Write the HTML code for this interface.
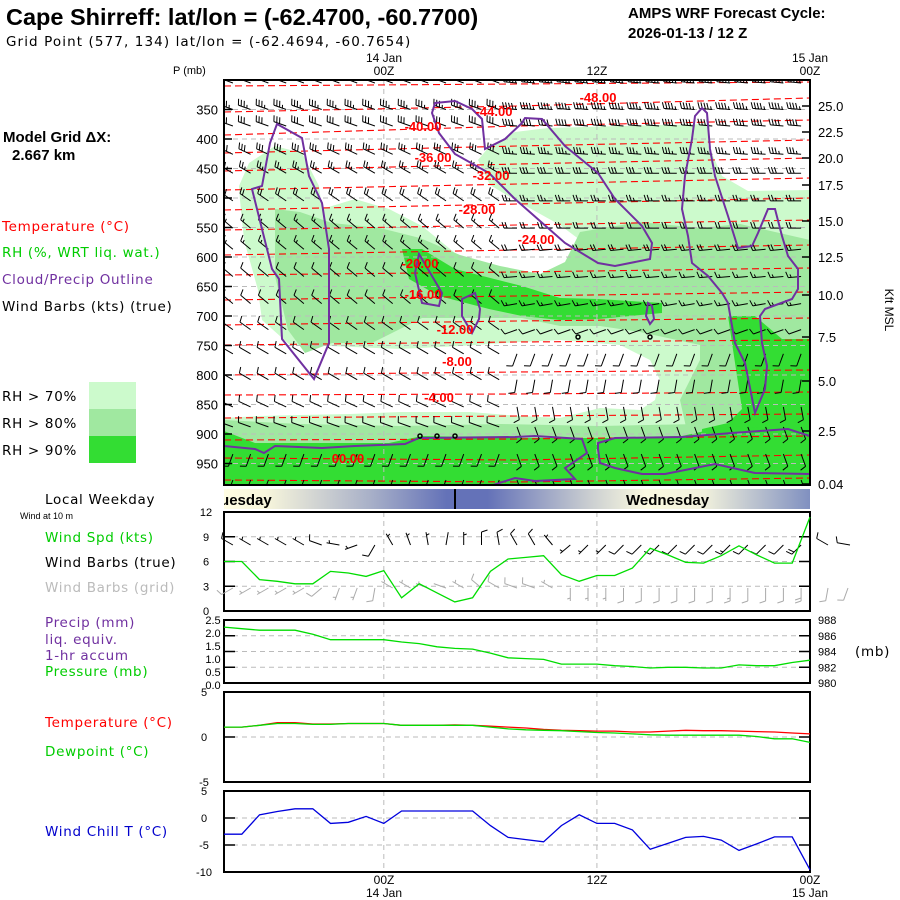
<!DOCTYPE html>
<html><head><meta charset="utf-8">
<style>
html,body{margin:0;padding:0;background:#fff;}
svg{display:block;font-family:"Liberation Sans",sans-serif;}
.h{font-family:"DejaVu Sans","Liberation Sans",sans-serif;font-size:13.5px;letter-spacing:0.7px;}
</style></head>
<body>
<svg id="svg" width="900" height="900" viewBox="0 0 900 900" xmlns="http://www.w3.org/2000/svg">
<defs>
<linearGradient id="dayg" x1="224" x2="810" y1="0" y2="0" gradientUnits="userSpaceOnUse">
<stop offset="0" stop-color="#fffde2"/>
<stop offset="0.07" stop-color="#f8f6dc"/>
<stop offset="0.25" stop-color="#a8b0c8"/>
<stop offset="0.38" stop-color="#6472b8"/>
<stop offset="0.45" stop-color="#6472b8"/>
<stop offset="0.62" stop-color="#c8ccd0"/>
<stop offset="0.72" stop-color="#fbfae0"/>
<stop offset="0.82" stop-color="#f0f0dc"/>
<stop offset="1" stop-color="#8090c0"/>
</linearGradient>
<clipPath id="mainclip"><rect x="224" y="80" width="586" height="405"/></clipPath>
</defs>

<!-- header text -->
<text x="6" y="25" font-size="23.5" font-weight="bold">Cape Shirreff:  lat/lon = (-62.4700, -60.7700)</text>
<text x="6" y="46" class="h" style="font-size:13.5px;letter-spacing:1.1px">Grid Point (577, 134) lat/lon = (-62.4694, -60.7654)</text>
<text x="628" y="18" font-size="15" font-weight="bold">AMPS WRF Forecast Cycle:</text>
<text x="628" y="38" font-size="15" font-weight="bold">2026-01-13 / 12  Z</text>
<text x="173" y="74" font-size="11">P (mb)</text>
<text x="384" y="62" font-size="12" text-anchor="middle">14 Jan</text>
<text x="384" y="75" font-size="12" text-anchor="middle">00Z</text>
<text x="597" y="75" font-size="12" text-anchor="middle">12Z</text>
<text x="810" y="62" font-size="12" text-anchor="middle">15 Jan</text>
<text x="810" y="75" font-size="12" text-anchor="middle">00Z</text>

<!-- left legend -->
<text x="3" y="142" font-size="15" font-weight="bold">Model Grid ΔX:</text>
<text x="12" y="160" font-size="15" font-weight="bold">2.667 km</text>
<text x="2" y="231" class="h" fill="#ff0000">Temperature (°C)</text>
<text x="2" y="257" class="h" fill="#00cc00">RH (%, WRT liq. wat.)</text>
<text x="2" y="284" class="h" fill="#7030a0">Cloud/Precip Outline</text>
<text x="2" y="311" class="h">Wind Barbs (kts) (true)</text>
<rect x="89" y="382" width="47" height="27" fill="#ccfacc"/>
<rect x="89" y="409" width="47" height="27" fill="#a0e8a0"/>
<rect x="89" y="436" width="47" height="27" fill="#33dd33"/>
<text x="2" y="401" class="h">RH &gt; 70%</text>
<text x="2" y="428" class="h">RH &gt; 80%</text>
<text x="2" y="455" class="h">RH &gt; 90%</text>

<!-- main panel -->
<g clip-path="url(#mainclip)">
<rect x="224" y="80" width="586" height="405" fill="#ccfacc"/>
<polygon fill="#ffffff" points="224,80 810,80 810,190 748,191 722,176 708,145 710,124 620,126 548,128 515,132 488,148 478,160 490,185 515,200 560,225 600,255 610,262 560,275 522,279 489,269 455,253 422,226 389,209 355,199 322,209 319,186 302,153 275,146 249,163 239,186 240,200 244,240 258,290 262,320 290,345 330,346 400,349 460,346 520,342 560,340 620,345 650,360 660,380 655,400 640,410 600,408 560,418 520,416 470,412 400,412 350,414 300,415 260,416 224,418"/>
<polygon fill="#a0e8a0" points="275,209 300,212 332,223 380,228 420,238 460,255 500,266 540,274 565,262 580,232 640,222 700,228 740,224 810,240 810,330 760,345 700,345 640,332 600,326 560,326 522,318 472,318 422,318 372,343 332,343 305,353 288,330 275,276"/>
<polygon fill="#a0e8a0" points="700,300 810,300 810,445 690,445 680,400 700,360"/>
<polygon fill="#a0e8a0" points="224,420 300,424 400,426 500,424 600,426 700,424 810,424 810,485 224,485"/>
<polygon fill="#33dd33" points="402,249 422,249 455,269 522,286 560,298 598,299 662,303 662,313 598,319 560,320 522,316 489,309 439,296 409,279"/>
<polygon fill="#33dd33" points="728,316 755,316 782,339 810,339 810,485 700,485 702,429 728,423 742,409 732,343"/>
<polygon fill="#33dd33" points="224,431 255,443 389,443 422,436 522,438 615,438 682,436 728,426 788,429 810,429 810,485 224,485"/>
<g id="gridlines"></g>
<g id="redcont"></g>
<g id="barbs"></g>
<g fill="none" stroke="#7030a0" stroke-width="2">
<polygon points="277,124 302,138 309,176 322,203 329,249 329,343 314,379 282,339 279,279 272,269 252,189 262,186 270,143"/>
<polygon points="435,103 455,101 472,109 482,119 485,149 505,139 522,123 525,118 542,119 565,146 598,173 615,199 642,226 652,243 650,259 615,266 598,263 565,243 515,199 489,173 455,154 439,133 432,113"/>
<polygon points="702,108 707,113 710,149 715,176 728,216 738,248 752,246 758,233 768,209 775,209 782,236 788,256 798,269 798,289 792,299 765,309 760,316 762,343 767,366 765,389 755,413 745,363 735,343 728,303 722,293 708,276 692,263 688,236 682,209 685,176 692,139 695,116"/>
<polygon points="419,254 432,276 442,293 439,306 422,303 415,273"/>
<polygon points="462,299 475,293 480,309 479,319 472,333 462,316"/>
<polygon points="648,303 652,306 654,319 650,324 646,316"/>
<polyline points="224,446 255,449 264,453 275,446 322,448 355,446 405,444 419,438 515,437 535,436 582,439 587,453 565,468 575,479 535,481 515,478 490,486"/>
<polygon points="598,443 615,438 682,437 732,433 788,429 810,436 810,474 755,473 715,464 665,474 642,474 615,468 600,463 598,449"/>
</g>
<g>
<circle cx="420" cy="436" r="2" fill="none" stroke="#000" stroke-width="1.5"/>
<circle cx="437" cy="436" r="2" fill="none" stroke="#000" stroke-width="1.5"/>
<circle cx="455" cy="436" r="2" fill="none" stroke="#000" stroke-width="1.5"/>
<circle cx="578" cy="337" r="2" fill="none" stroke="#000" stroke-width="1.5"/>
<circle cx="650" cy="337" r="2" fill="none" stroke="#000" stroke-width="1.5"/>
</g>
<g font-size="13" font-weight="bold" fill="#ff0000" text-anchor="middle">
<text x="598" y="102">-48.00</text>
<text x="494" y="116">-44.00</text>
<text x="423" y="131">-40.00</text>
<text x="433" y="162">-36.00</text>
<text x="491" y="180">-32.00</text>
<text x="477" y="214">-28.00</text>
<text x="536" y="244">-24.00</text>
<text x="420" y="268">-20.00</text>
<text x="423" y="299">-16.00</text>
<text x="455" y="334">-12.00</text>
<text x="457" y="366">-8.00</text>
<text x="439" y="402">-4.00</text>
<text x="348" y="463">00.00</text>
</g>
</g>
<rect x="224" y="80" width="586" height="405" fill="none" stroke="#000" stroke-width="2"/>
<g id="axes"></g>
<text x="885" y="310" font-size="12" transform="rotate(90 885 310)" text-anchor="middle">Kft MSL</text>

<!-- day bar -->
<rect x="224" y="489" width="586" height="20" fill="url(#dayg)"/>
<line x1="455" y1="489" x2="455" y2="509" stroke="#000" stroke-width="2"/>
<svg x="224" y="489" width="586" height="20"><text x="-12" y="16" font-size="15" font-weight="bold">Tuesday</text></svg>
<text x="626" y="505" font-size="15" font-weight="bold">Wednesday</text>
<text x="45" y="504" class="h">Local Weekday</text>
<text x="20" y="519" font-size="9">Wind at 10 m</text>
<text x="45" y="542" class="h" fill="#00cc00">Wind Spd (kts)</text>
<text x="45" y="567" class="h">Wind Barbs (true)</text>
<text x="45" y="592" class="h" fill="#bbbbbb">Wind Barbs (grid)</text>
<text x="45" y="627" class="h" fill="#7030a0">Precip (mm)</text>
<text x="45" y="644" class="h" fill="#7030a0">liq. equiv.</text>
<text x="45" y="660" class="h" fill="#7030a0">1-hr accum</text>
<text x="45" y="676" class="h" fill="#00cc00">Pressure (mb)</text>
<text x="45" y="727" class="h" fill="#ff0000">Temperature (°C)</text>
<text x="45" y="756" class="h" fill="#00cc00">Dewpoint (°C)</text>
<text x="45" y="836" class="h" fill="#0000cc">Wind Chill T (°C)</text>
<text x="855" y="656" class="h">(mb)</text>
<g id="lower"></g>
<text x="384" y="884" font-size="12" text-anchor="middle">00Z</text>
<text x="384" y="897" font-size="12" text-anchor="middle">14 Jan</text>
<text x="597" y="884" font-size="12" text-anchor="middle">12Z</text>
<text x="810" y="884" font-size="12" text-anchor="middle">00Z</text>
<text x="810" y="897" font-size="12" text-anchor="middle">15 Jan</text>
</svg>

<script>
// ---- data ----
var hours = [0,1,2,3,4,5,6,7,8,9,10,11,12,13,14,15,16,17,18,19,20,21,22,23,24,25,26,27,28,29,30,31,32,33];
var windSpd = [6.0,6.0,3.8,3.6,3.3,3.3,4.8,4.6,4.2,4.9,1.6,3.3,2.2,1.1,1.6,4.8,6.3,6.5,6.7,4.4,3.6,4.3,4.3,5.2,7.6,6.8,5.9,5.8,6.7,7.9,6.8,5.8,5.8,11.4];
var pressure = [987.1,986.9,986.7,986.7,986.7,986.2,985.5,985.5,985.5,985.5,985.2,985.0,984.6,984.4,984.3,983.8,983.2,983.1,983.0,982.4,982.4,982.4,982.2,982.1,981.9,982.0,982.0,981.9,981.9,982.3,982.2,982.2,982.6,982.9];
var temperature = [1.1,1.1,1.3,1.6,1.6,1.45,1.45,1.5,1.5,1.5,1.3,1.3,1.3,1.35,1.3,1.2,1.1,1.0,0.85,0.75,0.7,0.65,0.65,0.55,0.55,0.65,0.75,0.7,0.7,0.65,0.6,0.55,0.45,0.35];
var dewpoint = [1.1,1.1,1.3,1.5,1.5,1.4,1.4,1.5,1.5,1.5,1.3,1.3,1.3,1.3,1.3,1.1,0.9,0.8,0.75,0.7,0.6,0.5,0.45,0.35,0.25,0.2,0.2,0.2,0.2,0.2,0.05,-0.2,-0.2,-0.6];
var windChill = [-3.0,-3.0,0.6,1.2,1.7,1.7,-1.0,-0.8,0.3,-1.0,1.3,1.3,1.3,1.3,1.3,-1.4,-3.6,-4.0,-4.4,-1.4,0.6,-1.0,-1.0,-2.2,-5.8,-4.7,-3.6,-3.4,-4.1,-6.0,-4.8,-3.5,-3.5,-9.6];
var sfcDirTrue = [300,300,300,300,300,300,290,280,250,210,330,340,350,10,0,0,350,330,330,320,230,225,225,225,225,225,225,225,225,225,225,225,225,225];
var sfcDirGrid = [240,240,240,240,240,240,230,200,200,190,300,300,290,290,300,310,300,290,290,300,180,180,180,180,180,180,180,180,180,180,180,180,180,180];
var pLevels = [350,400,450,500,550,600,650,700,750,800,850,900,950];
var kftLabels = ["25.0","22.5","20.0","17.5","15.0","12.5","10.0","7.5","5.0","2.5","0.04"];
var kftY = [106,132,158,185,221,257,295,337,381,431,484];
var barbRowP = [305,350,378,426,458,505,551,587,633,679,723,764,808,854,888,934,978];
var barbSpdL = [35,35,30,30,25,20,15,15,10,10,10,10,10,10,10,10,10];
var barbSpdR = [45,45,40,35,30,25,20,20,15,15,10,10,10,10,10,10,10];
var barbDirL = [290,290,290,295,300,305,310,310,310,310,305,300,300,295,290,200,200];
var barbDirR = [275,275,275,275,270,270,270,265,265,260,250,200,190,170,160,160,160];
var tempContours = [[86,84,82],[112,106,98],[135,126,120],[153,146,140],[171,164,158],[190,184,178],[210,204,198],[230,225,220],[255,250,245],[275,272,268],[300,296,292],[325,321,318],[345,342,340],[375,372,370],[395,394,392],[418,416,414],[440,439,436],[458,460,455],[480,482,478]];

// ---- scales ----
var NS = "http://www.w3.org/2000/svg";
function X(h){ return 224 + h*586/33; }
function Yp(p){ return 80 + (p-300)*0.59; }
function Yw(v){ return 611 - v*99/12; }
function Ypr(mb){ return 683 - (mb-980)*63/8; }
function Yt(t){ return 737 - t*9; }
function Yc(t){ return 818 - t*5.4; }
function mk(tag, attrs, parent){
  var e = document.createElementNS(NS, tag);
  for (var k in attrs) e.setAttribute(k, attrs[k]);
  parent.appendChild(e);
  return e;
}
function barb(g, x, y, dir, spd, col, L){
  L = L || 14;
  var r = dir*Math.PI/180;
  var ux = Math.sin(r), uy = -Math.cos(r);
  var px = -uy, py = ux;
  var ex = x + ux*L, ey = y + uy*L;
  var d = "M"+x.toFixed(1)+" "+y.toFixed(1)+"L"+ex.toFixed(1)+" "+ey.toFixed(1);
  var s = Math.round(spd/5)*5, pos = 0;
  var fl = 6;
  while (s >= 50){
    var bx = ex - ux*pos, by = ey - uy*pos;
    var b2x = ex - ux*(pos+4), b2y = ey - uy*(pos+4);
    d += "M"+bx.toFixed(1)+" "+by.toFixed(1)+"L"+(bx+px*fl+ux*2).toFixed(1)+" "+(by+py*fl+uy*2).toFixed(1)+"L"+b2x.toFixed(1)+" "+b2y.toFixed(1);
    pos += 5; s -= 50;
  }
  while (s >= 10){
    var bx = ex - ux*pos, by = ey - uy*pos;
    d += "M"+bx.toFixed(1)+" "+by.toFixed(1)+"l"+(px*fl+ux*2).toFixed(1)+" "+(py*fl+uy*2).toFixed(1);
    pos += 3; s -= 10;
  }
  if (s >= 5){
    if (pos === 0) pos = 3;
    var bx = ex - ux*pos, by = ey - uy*pos;
    d += "M"+bx.toFixed(1)+" "+by.toFixed(1)+"l"+(px*fl/2+ux).toFixed(1)+" "+(py*fl/2+uy).toFixed(1);
  }
  var p = mk("path", {d:d, stroke:col, "stroke-width":1, fill:"none"}, g);
  
  
}

// ---- main panel grid & contours ----
var gl = document.getElementById("gridlines");
pLevels.forEach(function(p){
  var l = mk("line", {x1:224, x2:810, y1:Yp(p), y2:Yp(p), stroke:"#bbbbbb", "stroke-dasharray":"5,4", "stroke-width":1}, gl);
  
  
});
[9,21].forEach(function(h){
  var l = mk("line", {x1:X(h), x2:X(h), y1:80, y2:485, stroke:"#bbbbbb", "stroke-dasharray":"5,4"}, gl);
  
  
});
var rc = document.getElementById("redcont");
tempContours.forEach(function(c){
  var pl = mk("polyline", {points:"224,"+c[0]+" 517,"+c[1]+" 810,"+c[2], fill:"none", stroke:"#ff0000", "stroke-width":1.1, "stroke-dasharray":"7,4"}, rc);
  
  
});
var bg = document.getElementById("barbs");
barbRowP.forEach(function(p, i){
  for (var h = 0.5; h < 33; h += 1){
    var right = h > 16;
    barb(bg, X(h), Yp(p), right ? barbDirR[i] : barbDirL[i], right ? barbSpdR[i] : barbSpdL[i], "#000", 13);
  }
});

// ---- axes ----
var ax = document.getElementById("axes");
pLevels.forEach(function(p){
  var t = mk("text", {x:218, y:Yp(p)+5, "font-size":13, "text-anchor":"end"}, ax);
  t.textContent = p;
  
  
  var tk = mk("line", {x1:224, x2:232, y1:Yp(p), y2:Yp(p), stroke:"#000", "stroke-width":1.5}, ax);
  
  
});
kftLabels.forEach(function(s, i){
  var t = mk("text", {x:818, y:kftY[i]+5, "font-size":13}, ax);
  t.textContent = s;
  
  
  var tk = mk("line", {x1:802, x2:810, y1:kftY[i], y2:kftY[i], stroke:"#000", "stroke-width":1.5}, ax);
  
  
});

// ---- lower panels ----
var lo = document.getElementById("lower");
function panel(name, y0, y1, gridYs, tickYs){
  var g = mk("g", {}, lo);
  
  
  gridYs.forEach(function(y){
    var l = mk("line", {x1:224, x2:810, y1:y, y2:y, stroke:"#bbbbbb", "stroke-dasharray":"5,4"}, g);
    
    
  });
  [9,21].forEach(function(h){
    var l = mk("line", {x1:X(h), x2:X(h), y1:y0, y2:y1, stroke:"#bbbbbb", "stroke-dasharray":"5,4"}, g);
    
    
  });
  tickYs.forEach(function(y){
    var a = mk("line", {x1:224, x2:235, y1:y, y2:y, stroke:"#000", "stroke-width":1.5}, g);
    
    
    var b = mk("line", {x1:799, x2:810, y1:y, y2:y, stroke:"#000", "stroke-width":1.5}, g);
    
    
  });
  var r = mk("rect", {x:224, y:y0, width:586, height:y1-y0, fill:"none", stroke:"#000", "stroke-width":2}, g);
  
  
  return g;
}
function line(g, arr, yf, col, name){
  var pts = hours.map(function(h, i){ return X(h).toFixed(1)+","+yf(arr[i]).toFixed(1); }).join(" ");
  var pl = mk("polyline", {points:pts, fill:"none", stroke:col, "stroke-width":1.3}, g);
  
  
}
function label(x, y, s, anchor, name){
  var t = mk("text", {x:x, y:y, "font-size":11, "text-anchor":anchor}, lo);
  t.textContent = s;
  
  
}
var gw = panel("wind-panel", 512, 611, [Yw(3),Yw(6),Yw(9)], [Yw(3),Yw(6),Yw(9)]);
[0,3,6,9,12].forEach(function(v){ label(206, Yw(v)+4, String(v), "middle", "wind-tick-label"); });
hours.forEach(function(h, i){
  if (h < 1) return;
  barb(gw, X(h-0.5), 545, sfcDirTrue[i], windSpd[i]*1.6, "#000", 13);
  barb(gw, X(h-0.5), 588, sfcDirGrid[i], windSpd[i]*1.6, "#aaaaaa", 13);
});
barb(lo, 828, 545, 300, 10, "#000", 13);
barb(lo, 850, 545, 280, 10, "#000", 13);
barb(lo, 828, 588, 190, 8, "#aaaaaa", 13);
barb(lo, 848, 588, 200, 8, "#aaaaaa", 13);
line(gw, windSpd, Yw, "#00dd00", "wind-speed-line");
var gp = panel("pressure-panel", 620, 683, [Ypr(982),Ypr(984),Ypr(986)], [Ypr(982),Ypr(984),Ypr(986)]);
["2.5","2.0","1.5","1.0","0.5","0.0"].forEach(function(s, i){ label(213, 624 + i*13, s, "middle", "precip-tick-label"); });
[988,986,984,982,980].forEach(function(v){ label(818, Ypr(v)+4, String(v), "start", "pressure-tick-label"); });
line(gp, pressure, Ypr, "#00dd00", "pressure-line");
var gt = panel("temperature-panel", 692, 782, [Yt(0)], [Yt(0)]);
[5,0,-5].forEach(function(v){ label(204, Yt(v)+4, String(v), "middle", "temp-tick-label"); });
line(gt, temperature, Yt, "#ff0000", "temperature-line");
line(gt, dewpoint, Yt, "#00dd00", "dewpoint-line");
var gc = panel("wind-chill-panel", 791, 872, [Yc(0),Yc(-5)], [Yc(0),Yc(-5)]);
[5,0,-5,-10].forEach(function(v){ label(204, Yc(v)+4, String(v), "middle", "chill-tick-label"); });
line(gc, windChill, Yc, "#0000dd", "wind-chill-line");
</script>
</body></html>
